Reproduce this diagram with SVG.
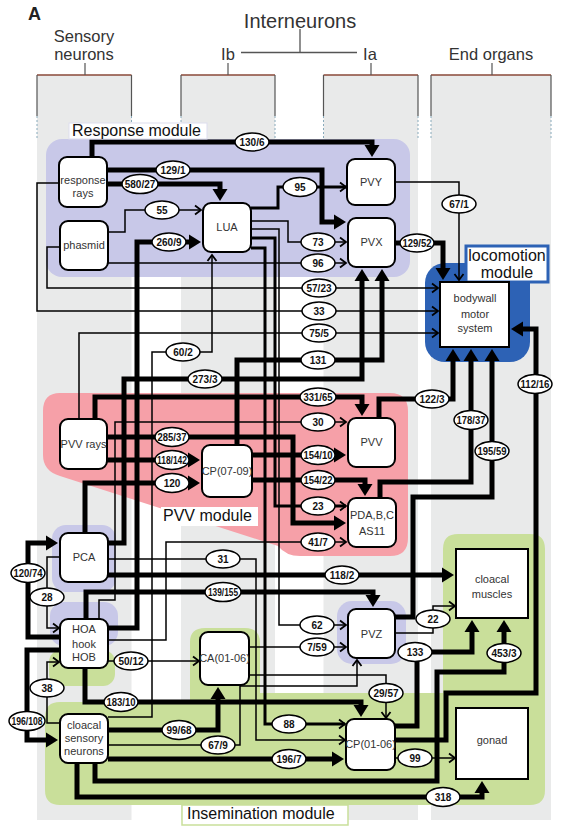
<svg xmlns="http://www.w3.org/2000/svg" width="568" height="827" viewBox="0 0 568 827">
<style>
text{font-family:"Liberation Sans",Arial,sans-serif}
.hd{font-size:16.5px;fill:#333;text-anchor:middle}
.ml{font-size:16px;fill:#111}
.nd{fill:#fff;stroke:#000;stroke-width:2}
.nt{font-size:11px;fill:#333;text-anchor:middle}
.c{fill:none;stroke:#000;stroke-width:1.5}
.m{stroke-width:3}
.k{stroke-width:5}
.lb ellipse{fill:#fff;stroke:#000;stroke-width:1.5}
.lb text{font-size:10px;font-weight:bold;text-anchor:middle;fill:#111}
.col{fill:#e9eaea}
.cs{stroke:#555;stroke-width:1.2}
.cd{stroke:#8ab;stroke-width:1;stroke-dasharray:2 2}
</style>
<defs>
<marker id="ak" viewBox="0 -8 13 16" markerWidth="13" markerHeight="16" refX="6" refY="0" orient="auto" markerUnits="userSpaceOnUse"><path d="M0,-7.5 L12,0 L0,7.5 Z" fill="#000"/></marker>
<marker id="at" viewBox="-1 -6 10 12" markerWidth="10" markerHeight="12" refX="7" refY="0" orient="auto" markerUnits="userSpaceOnUse"><path d="M1,-4.5 L7,0 L1,4.5" fill="none" stroke="#000" stroke-width="1.8"/></marker>
</defs>
<rect width="568" height="827" fill="#fff"/>
<g id="header">
<text x="28" y="20" font-size="18" font-weight="bold" fill="#222">A</text>
<text x="300" y="28" font-size="20" fill="#333" text-anchor="middle">Interneurons</text>
<text class="hd" x="84" y="41.5" font-size="15">Sensory</text>
<text class="hd" x="84" y="59.5" font-size="15">neurons</text>
<text class="hd" x="228" y="60">Ib</text>
<text class="hd" x="370" y="60">Ia</text>
<text class="hd" x="491" y="60">End organs</text>
<path d="M300,29 V52.5 M241,52.5 H357" stroke="#555" stroke-width="1.3" fill="none"/>
</g>
<g id="columns">
<rect class="col" x="37" y="75" width="94.5" height="745"/>
<rect class="col" x="181" y="75" width="94" height="745"/>
<rect class="col" x="323.5" y="75" width="94.5" height="745"/>
<rect class="col" x="431" y="75" width="120" height="745"/>
<path d="M37,75 H131.5 M181,75 H275 M323.5,75 H418 M431,75 H551" stroke="#8a4a3a" stroke-width="1.3"/>
<path class="cs" d="M37,75 V116 M131.5,75 V116 M181,75 V116 M275,75 V116 M323.5,75 V116 M418,75 V116 M431,75 V116 M551,75 V116 M85,63 V75 M228,63 V75 M371,63 V75 M492,63 V75"/>
<path class="cd" d="M37,116 V140 M131.5,116 V140 M181,116 V140 M275,116 V140 M323.5,116 V140 M418,116 V140 M431,116 V140 M551,116 V140"/>
</g>
<g id="modules">
<rect id="response-module" x="46" y="139" width="364" height="138" rx="16" fill="#c8c8e8"/>
<path id="pvv-module" d="M60,393 L390,393 Q408,393 408,411 L408,538 Q408,556 390,556 L300,556 Q286,556 278,546 L60,476 Q43,471 43,455 L43,411 Q43,393 60,393 Z" fill="#f6a0a8"/>
<path id="insemination-module" d="M60,702 L190,702 L190,642 Q190,628 205,628 L245,628 Q260,628 260,643 L260,693 L443,693 L443,549 Q443,534 458,534 L530,534 Q545,534 545,549 L545,790 Q545,805 530,805 L60,805 Q45,805 45,790 L45,717 Q45,702 60,702 Z" fill="#c9df9a"/>
<rect x="49" y="650" width="66" height="36" rx="12" fill="#c9df9a"/>
<rect x="52" y="525" width="64" height="67" rx="14" fill="#c8c8e8"/>
<rect x="50" y="602" width="68" height="44" rx="14" fill="#c8c8e8"/>
<rect x="337" y="601" width="69" height="63" rx="15" fill="#c8c8e8"/>
<rect id="locomotion-module" x="425" y="263" width="105" height="99" rx="20" fill="#2d62b5"/>
</g>
<g id="connectors">
<g id="edges">
<path class="c k" marker-end="url(#ak)" d="M92,157 V142 H372 V151"/>
<path class="c k" marker-end="url(#ak)" d="M107,170 H322 V222 H340"/>
<path class="c k" marker-end="url(#ak)" d="M107,184 H220 V195"/>
<path class="c m" marker-end="url(#at)" d="M251,208 H278 V187 H346"/>
<path class="c" marker-end="url(#at)" d="M108,232 H125 V210 H201"/>
<path class="c" marker-end="url(#at)" d="M395,182 H459 V280"/>
<path class="c k" marker-end="url(#ak)" d="M108,628 H137 V242 H195"/>
<path class="c" marker-end="url(#at)" d="M251,221 H288 V242 H346"/>
<path class="c k" marker-end="url(#ak)" d="M395,243 H443 V274"/>
<path class="c" marker-end="url(#at)" d="M108,263 H346"/>
<path class="c" marker-end="url(#at)" d="M60,247 H47 V288 H438"/>
<path class="c" marker-end="url(#at)" d="M59,183 H37 V311 H438"/>
<path class="c" marker-end="url(#at)" d="M79,419 V333 H438"/>
<path class="c" marker-end="url(#at)" d="M108,717 H152 V352 H212 V255"/>
<path class="c k" marker-end="url(#ak)" d="M108,543 H124 V379 H362 V275"/>
<path class="c k" marker-end="url(#ak)" d="M237,445 V360 H382 V275"/>
<path class="c k" marker-end="url(#ak)" d="M95,419 V397 H362 V410"/>
<path class="c k" marker-end="url(#ak)" d="M379,418 V399 H453 V355"/>
<path class="c k" marker-end="url(#ak)" d="M395,740 H446 V693 H536 V329 H517"/>
<path class="c k" marker-end="url(#ak)" d="M380,498 V482 H471 V355"/>
<path class="c k" marker-end="url(#ak)" d="M395,617 H413 V497 H492 V355"/>
<path class="c" marker-end="url(#at)" d="M99,619 V600 H115 V422 H346"/>
<path class="c k" marker-end="url(#ak)" d="M252,455 H340"/>
<path class="c k" marker-end="url(#ak)" d="M252,480 H365 V490"/>
<path class="c m" marker-end="url(#at)" d="M251,238 H275 V506 H346"/>
<path class="c" marker-end="url(#at)" d="M108,640 H166 V542 H346"/>
<path class="c k" marker-end="url(#ak)" d="M107,437 H293 V523 H340"/>
<path class="c k" marker-end="url(#ak)" d="M107,460 H194"/>
<path class="c k" marker-end="url(#ak)" d="M85,533 V483 H194"/>
<path class="c" marker-end="url(#at)" d="M108,559 H256 V740 H345"/>
<path class="c k" marker-end="url(#ak)" d="M108,575 H448"/>
<path class="c k" marker-end="url(#ak)" d="M86,619 V592 H373 V601"/>
<path class="c k" marker-end="url(#ak)" d="M60,637 H28 V543 H52"/>
<path class="c" marker-end="url(#at)" d="M60,557 H47 V628 H59"/>
<path class="c" marker-end="url(#at)" d="M108,661 H199"/>
<path class="c" marker-end="url(#at)" d="M60,723 H47 V662 H59"/>
<path class="c k" marker-end="url(#ak)" d="M60,650 H27 V740 H52"/>
<path class="c k" marker-end="url(#ak)" d="M85,668 V702 H361 V711"/>
<path class="c k" marker-end="url(#ak)" d="M108,730 H218 V693"/>
<path class="c" marker-end="url(#at)" d="M108,745 H240 V686 H357 V660"/>
<path class="c" marker-end="url(#at)" d="M249,647 H346"/>
<path class="c" marker-end="url(#at)" d="M249,675 H386 V718"/>
<path class="c" marker-end="url(#at)" d="M251,229 H279 V625 H346"/>
<path class="c" marker-end="url(#at)" d="M395,633 H433 V606 H455"/>
<path class="c k" marker-end="url(#ak)" d="M395,726 H417 V652 H472 V626"/>
<path class="c k" marker-end="url(#ak)" d="M95,763 V781 H437 V672 H504 V626"/>
<path class="c k" marker-end="url(#ak)" d="M77,763 V797 H482 V787"/>
<path class="c" marker-end="url(#at)" d="M395,758 H455"/>
<path class="c k" marker-end="url(#ak)" d="M108,759 H338"/>
<path class="c m" marker-end="url(#at)" d="M251,248 H265 V724 H345"/>
</g>
<g id="edge-labels" class="lb">
<ellipse cx="252" cy="142" rx="17" ry="9"/><text x="252" y="145.5">130/6</text>
<ellipse cx="173" cy="170" rx="17" ry="9"/><text x="173" y="173.5">129/1</text>
<ellipse cx="140" cy="184" rx="18" ry="9.5"/><text x="140" y="187.5">580/27</text>
<ellipse cx="300" cy="187" rx="17" ry="9.5"/><text x="300" y="190.5">95</text>
<ellipse cx="162" cy="210" rx="17" ry="9"/><text x="162" y="213.5">55</text>
<ellipse cx="459" cy="204" rx="17" ry="9"/><text x="459" y="207.5">67/1</text>
<ellipse cx="169" cy="242" rx="17" ry="9"/><text x="169" y="245.5">260/9</text>
<ellipse cx="318" cy="242" rx="17" ry="9"/><text x="318" y="245.5">73</text>
<ellipse cx="417" cy="243" rx="17" ry="9"/><text x="417" y="246.5" textLength="29" lengthAdjust="spacingAndGlyphs">129/52</text>
<ellipse cx="318" cy="263" rx="17" ry="9"/><text x="318" y="266.5">96</text>
<ellipse cx="319" cy="288" rx="17" ry="9"/><text x="319" y="291.5">57/23</text>
<ellipse cx="319" cy="311" rx="17" ry="9"/><text x="319" y="314.5">33</text>
<ellipse cx="319" cy="333" rx="17" ry="9"/><text x="319" y="336.5">75/5</text>
<ellipse cx="183" cy="352" rx="17" ry="9"/><text x="183" y="355.5">60/2</text>
<ellipse cx="205" cy="379" rx="17" ry="9"/><text x="205" y="382.5">273/3</text>
<ellipse cx="318" cy="360" rx="17" ry="9"/><text x="318" y="363.5">131</text>
<ellipse cx="318" cy="397" rx="18" ry="9"/><text x="318" y="400.5" textLength="29" lengthAdjust="spacingAndGlyphs">331/65</text>
<ellipse cx="432" cy="399" rx="17" ry="9"/><text x="432" y="402.5">122/3</text>
<ellipse cx="535" cy="384" rx="17" ry="9.5"/><text x="535" y="387.5" textLength="29" lengthAdjust="spacingAndGlyphs">112/16</text>
<ellipse cx="471" cy="420" rx="17" ry="9.5"/><text x="471" y="423.5" textLength="29" lengthAdjust="spacingAndGlyphs">178/37</text>
<ellipse cx="492" cy="451" rx="17" ry="9.5"/><text x="492" y="454.5" textLength="29" lengthAdjust="spacingAndGlyphs">195/59</text>
<ellipse cx="318" cy="422" rx="17" ry="9"/><text x="318" y="425.5">30</text>
<ellipse cx="318" cy="455" rx="17" ry="9.5"/><text x="318" y="458.5" textLength="29" lengthAdjust="spacingAndGlyphs">154/10</text>
<ellipse cx="318" cy="480" rx="17" ry="9.5"/><text x="318" y="483.5" textLength="29" lengthAdjust="spacingAndGlyphs">154/22</text>
<ellipse cx="318" cy="506" rx="17" ry="9"/><text x="318" y="509.5">23</text>
<ellipse cx="318" cy="542" rx="17" ry="9"/><text x="318" y="545.5">41/7</text>
<ellipse cx="172" cy="437" rx="17" ry="9.5"/><text x="172" y="440.5" textLength="29" lengthAdjust="spacingAndGlyphs">285/37</text>
<ellipse cx="172" cy="460" rx="17" ry="9.5"/><text x="172" y="463.5" textLength="30" lengthAdjust="spacingAndGlyphs">118/142</text>
<ellipse cx="172" cy="483" rx="17" ry="9.5"/><text x="172" y="486.5">120</text>
<ellipse cx="223" cy="559" rx="17" ry="9"/><text x="223" y="562.5">31</text>
<ellipse cx="342" cy="575" rx="17" ry="9"/><text x="342" y="578.5">118/2</text>
<ellipse cx="223" cy="592" rx="18" ry="9.5"/><text x="223" y="595.5" textLength="30" lengthAdjust="spacingAndGlyphs">139/155</text>
<ellipse cx="28" cy="573" rx="17" ry="9.5"/><text x="28" y="576.5" textLength="29" lengthAdjust="spacingAndGlyphs">120/74</text>
<ellipse cx="47" cy="597" rx="17" ry="9"/><text x="47" y="600.5">28</text>
<ellipse cx="131" cy="661" rx="17" ry="9"/><text x="131" y="664.5">50/12</text>
<ellipse cx="47" cy="688" rx="17" ry="9"/><text x="47" y="691.5">38</text>
<ellipse cx="27" cy="721" rx="18" ry="9.5"/><text x="27" y="724.5" textLength="31" lengthAdjust="spacingAndGlyphs">196/108</text>
<ellipse cx="121" cy="702" rx="17" ry="9.5"/><text x="121" y="705.5" textLength="29" lengthAdjust="spacingAndGlyphs">183/10</text>
<ellipse cx="179" cy="730" rx="17" ry="9.5"/><text x="179" y="733.5">99/68</text>
<ellipse cx="218" cy="745" rx="17" ry="9"/><text x="218" y="748.5">67/9</text>
<ellipse cx="317" cy="647" rx="17" ry="9"/><text x="317" y="650.5">7/59</text>
<ellipse cx="386" cy="693" rx="17" ry="9.5"/><text x="386" y="696.5">29/57</text>
<ellipse cx="317" cy="625" rx="17" ry="9"/><text x="317" y="628.5">62</text>
<ellipse cx="433" cy="619" rx="17" ry="9"/><text x="433" y="622.5">22</text>
<ellipse cx="415" cy="652" rx="17" ry="9.5"/><text x="415" y="655.5">133</text>
<ellipse cx="504" cy="653" rx="17" ry="9.5"/><text x="504" y="656.5">453/3</text>
<ellipse cx="443" cy="797" rx="17" ry="9.5"/><text x="443" y="800.5">318</text>
<ellipse cx="415" cy="758" rx="17" ry="9"/><text x="415" y="761.5">99</text>
<ellipse cx="289" cy="759" rx="17" ry="9.5"/><text x="289" y="762.5">196/7</text>
<ellipse cx="289" cy="724" rx="17" ry="9"/><text x="289" y="727.5">88</text>
</g>
</g>
<g id="module-labels">
<rect x="69" y="123" width="138" height="16" fill="#fff" stroke="#dde" stroke-width="1"/>
<text class="ml" x="72" y="136">Response module</text>
<rect x="161" y="507" width="97" height="19" fill="#fff"/>
<text class="ml" x="163" y="521" font-size="16.5">PVV module</text>
<rect x="182" y="805" width="166" height="20" fill="#fff" stroke="#c9df9a" stroke-width="1.5"/>
<text class="ml" x="187" y="819" font-size="16.5">Insemination module</text>
<rect x="466" y="246" width="82" height="36" fill="#fff" stroke="#2d62b5" stroke-width="3"/>
<text class="ml" x="507" y="261" text-anchor="middle" font-size="14.5">locomotion</text>
<text class="ml" x="507" y="278" text-anchor="middle" font-size="14.5">module</text>
</g>
<g id="n-response-rays"><rect class="nd" x="59" y="157" width="48" height="50" rx="8"/><text class="nt" x="83" y="184">response</text><text class="nt" x="83" y="197">rays</text></g>
<g id="n-phasmid"><rect class="nd" x="60" y="221" width="48" height="49" rx="8"/><text class="nt" x="84" y="249">phasmid</text></g>
<g id="n-lua"><rect class="nd" x="203" y="203" width="48" height="49" rx="8"/><text class="nt" x="227" y="231">LUA</text></g>
<g id="n-pvy"><rect class="nd" x="347" y="159" width="48" height="46" rx="8"/><text class="nt" x="371" y="186">PVY</text></g>
<g id="n-pvx"><rect class="nd" x="348" y="218" width="47" height="49" rx="8"/><text class="nt" x="371.5" y="246">PVX</text></g>
<g id="n-bodywall"><rect x="440" y="282" width="69" height="65" fill="#fff" stroke="#000" stroke-width="2"/><text class="nt" x="475" y="302" font-size="13">bodywall</text><text class="nt" x="475" y="318" font-size="13">motor</text><text class="nt" x="475" y="332" font-size="13">system</text></g>
<g id="n-pvv-rays"><rect class="nd" x="60" y="419" width="47" height="50" rx="8"/><text class="nt" x="83.5" y="448">PVV rays</text></g>
<g id="n-cp0709"><rect class="nd" x="202" y="445" width="50" height="52" rx="8"/><text class="nt" x="227" y="475">CP(07-09)</text></g>
<g id="n-pvv"><rect class="nd" x="348" y="418" width="47" height="49" rx="8"/><text class="nt" x="371.5" y="446" font-size="12">PVV</text></g>
<g id="n-pda"><rect class="nd" x="348" y="498" width="48" height="49" rx="8"/><text class="nt" x="372" y="519" font-size="12">PDA,B,C</text><text class="nt" x="372" y="535" font-size="12">AS11</text></g>
<g id="n-pca"><rect class="nd" x="60" y="533" width="48" height="49" rx="8"/><text class="nt" x="84" y="561">PCA</text></g>
<g id="n-hook"><rect class="nd" x="60" y="619" width="48" height="49" rx="8"/><text class="nt" x="84" y="633">HOA</text><text class="nt" x="84" y="648" font-size="15">hook</text><text class="nt" x="84" y="661">HOB</text></g>
<g id="n-ca0106"><rect class="nd" x="200" y="632" width="49" height="53" rx="8"/><text class="nt" x="224.5" y="662">CA(01-06)</text></g>
<g id="n-pvz"><rect class="nd" x="348" y="609" width="47" height="49" rx="8"/><text class="nt" x="371.5" y="638" font-size="12">PVZ</text></g>
<g id="n-cloacal-muscles"><rect x="456" y="549" width="72" height="69" fill="#fff" stroke="#000" stroke-width="2"/><text class="nt" x="492" y="583" font-size="14">cloacal</text><text class="nt" x="492" y="598" font-size="14">muscles</text></g>
<g id="n-csn"><rect class="nd" x="60" y="714" width="48" height="49" rx="8"/><text class="nt" x="84" y="729" font-size="12">cloacal</text><text class="nt" x="84" y="742" font-size="12">sensory</text><text class="nt" x="84" y="755" font-size="12">neurons</text></g>
<g id="n-cp0106"><rect class="nd" x="346" y="719" width="49" height="51" rx="8"/><text class="nt" x="370.5" y="748">CP(01-06)</text></g>
<g id="n-gonad"><rect x="456" y="708" width="72" height="71" fill="#fff" stroke="#000" stroke-width="2"/><text class="nt" x="492" y="744" font-size="14">gonad</text></g>
</svg>
